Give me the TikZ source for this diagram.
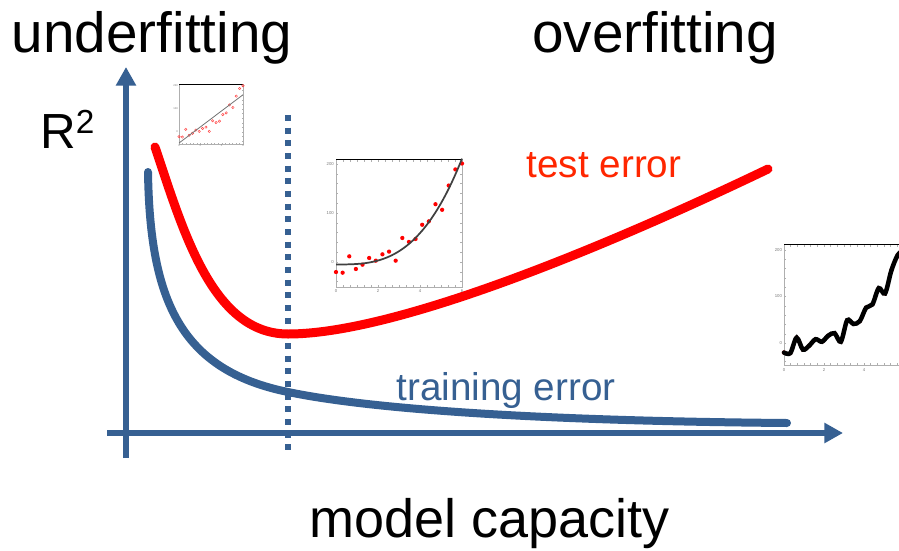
\documentclass[tikz,border=0pt]{standalone}
\usepackage{fontspec}
\setmainfont{Liberation Sans}
\usetikzlibrary{arrows.meta}
\definecolor{axisblue}{RGB}{54,96,146}
\definecolor{curvered}{RGB}{255,0,0}
\definecolor{labelred}{RGB}{255,38,0}
\definecolor{framegray}{RGB}{175,175,175}
\definecolor{tickgray}{RGB}{120,120,120}

% sample data shared by the three small fit plots
\def\fitdata{0/-20.5, 0.316/-21.8, 0.632/11.6, 0.947/-14.3, 1.263/-5.5, 1.579/8.2,
  1.895/2.7, 2.211/15.7, 2.526/21.2, 2.842/2.7, 3.158/49, 3.474/41, 3.789/47,
  4.105/76, 4.421/83, 4.737/118, 5.053/106.5, 5.368/156, 5.684/189, 6/201}

\begin{document}
\begin{tikzpicture}[x=0.75pt,y=-0.75pt,
  axisline/.style={axisblue, line width=4.5pt, -{Triangle[length=14pt,width=14.5pt]}},
  bigtext/.style={font=\fontsize{42}{46}\selectfont, inner sep=0pt, anchor=base},
  curvetext/.style={font=\fontsize{29}{32}\selectfont, inner sep=0pt, anchor=base},
  errcurve/.style={line width=6.75pt, line cap=round},
  ticklabel/.style={font=\fontsize{3.2}{3.6}\selectfont, text=tickgray, inner sep=0.5pt},
  tinylabel/.style={font=\fontsize{2}{2.4}\selectfont, text=tickgray, inner sep=0.3pt},
  frameline/.style={framegray, line width=0.4pt},
  topline/.style={black, line width=0.7pt}]
\useasboundingbox (0,0) rectangle (899,550);

% ---------- headings and axis labels ----------
\node[bigtext, font=\fontsize{42.5}{46}\selectfont] (under) at (152,52) {underfitting};
\node[bigtext, font=\fontsize{42.5}{46}\selectfont] (over) at (655,52) {overfitting};
\node[bigtext, font=\fontsize{40.5}{45}\selectfont] (capacity) at (490,537) {model capacity};
\node[inner sep=0pt, anchor=base west, font=\fontsize{37}{40}\selectfont] (rsq) at (40,148)
  {R\raisebox{11pt}{\fontsize{25}{27}\selectfont 2}};

% ---------- axes ----------
\coordinate (ybot) at (126,458);
\coordinate (ytop) at (126,67);
\coordinate (xleft) at (107,433);
\coordinate (xright) at (843,433);
\draw[axisline] (ybot) -- (ytop);
\draw[axisline] (xleft) -- (xright);

% ---------- optimal capacity marker ----------
\coordinate (dtop) at (288,115);
\coordinate (dbot) at (288,452);
\draw[axisblue, line width=4.5pt, dash pattern=on 4.5pt off 5pt] (dtop) -- (dbot);

% ---------- error curves ----------
\coordinate (teststart) at (155,147);
\coordinate (testmin) at (288,334);
\coordinate (testend) at (768,169);
\draw[errcurve, curvered] (teststart)
  .. controls (183,230) and (212,334) .. (testmin)
  .. controls (400,334) and (620,240) .. (testend);
\coordinate (trainstart) at (148,172);
\coordinate (trainmid) at (288,392);
\coordinate (trainend) at (787,423);
\draw[errcurve, axisblue, line width=6pt] (trainstart)
  .. controls (150,300) and (180,370) .. (trainmid)
  .. controls (374,410) and (550,421) .. (trainend);
\node[curvetext, text=labelred] (testlbl) at (604,177) {test error};
\node[curvetext, text=axisblue] (trainlbl) at (506,400) {training error};

% ---------- small plot: linear fit ----------
\begin{scope}[shift={(179,132)}, x=8.0pt, y=0.1725pt]
  \draw[frameline] (0,-52) rectangle (6,209);
  \foreach \i in {1,...,17} {
    \draw[frameline, line width=0.2pt] ({\i/3},-52) -- ++(0,5);
    \draw[frameline, line width=0.2pt] ({\i/3},209) -- ++(0,-5);}
  \foreach \v in {-40,-20,...,200} {
    \draw[frameline, line width=0.2pt] (0,\v) -- ++(0.1,0);
    \draw[frameline, line width=0.2pt] (6,\v) -- ++(-0.1,0);}
  \draw[topline, line width=0.5pt] (0,209) -- (6,209);
  \foreach \v in {0,100,200} \node[tinylabel, anchor=east] at (-0.05,\v) {\v};
  \foreach \u in {0,2,4,6} \node[tinylabel, anchor=north] at (\u,-54) {\u};
  \foreach \a/\b in \fitdata \draw[red!75, line width=0.35pt] (\a,\b) circle[radius=0.9pt];
  \draw[black!55, line width=0.6pt] (0,-48) -- (6,162);
\end{scope}

% ---------- small plot: cubic fit ----------
\begin{scope}[shift={(336,262)}, x=15.75pt, y=0.3675pt]
  \draw[frameline] (0,-51) rectangle (6,210);
  \foreach \i in {1,...,17} {
    \draw[frameline, line width=0.3pt] ({\i/3},-51) -- ++(0,5);
    \draw[frameline, line width=0.3pt] ({\i/3},210) -- ++(0,-5);}
  \foreach \v in {-40,-20,...,200} {
    \draw[frameline, line width=0.3pt] (0,\v) -- ++(0.08,0);
    \draw[frameline, line width=0.3pt] (6,\v) -- ++(-0.08,0);}
  \draw[topline] (0,210) -- (6,210);
  \foreach \v in {0,100,200} \node[ticklabel, anchor=east] at (-0.06,\v) {\v};
  \foreach \u in {0,2,4,6} \node[ticklabel, anchor=north] at (\u,-54) {\u};
  \foreach \a/\b in \fitdata \fill[red] (\a,\b) circle[radius=1.6pt];
  \draw[black!75, line width=1.3pt] plot[domain=0:6, samples=60, smooth] (\x,{\x*\x*\x-5});
\end{scope}

% ---------- small plot: interpolating fit ----------
\begin{scope}[shift={(784,343)}, x=15pt, y=0.34875pt]
  \clip (-2,-120) rectangle (5.75,240);
  \draw[frameline] (0,211) -- (0,-47) -- (6,-47);
  \foreach \i in {1,...,17} {
    \draw[frameline, line width=0.3pt] ({\i/3},-47) -- ++(0,5);
    \draw[frameline, line width=0.3pt] ({\i/3},211) -- ++(0,-5);}
  \foreach \v in {-40,-20,...,200}
    \draw[frameline, line width=0.3pt] (0,\v) -- ++(0.08,0);
  \draw[topline] (0,211) -- (6,211);
  \foreach \v in {0,100,200} \node[ticklabel, anchor=east] at (-0.06,\v) {\v};
  \foreach \u in {0,2,4} \node[ticklabel, anchor=north] at (\u,-52) {\u};
  \foreach \a/\b in \fitdata \fill[red] (\a,\b) circle[radius=1.6pt];
  \draw[black, line width=3.4pt, line cap=round] plot[smooth, tension=0.5] coordinates {
    (0,-20.5) (0.316,-21.8) (0.632,11.6) (0.947,-14.3) (1.263,-5.5) (1.579,8.2)
    (1.895,2.7) (2.211,15.7) (2.526,21.2) (2.842,2.7) (3.158,49) (3.474,41)
    (3.789,47) (4.105,76) (4.421,83) (4.737,118) (5.053,106.5) (5.368,156)
    (5.684,189) (6,201)};
\end{scope}
\end{tikzpicture}
\end{document}
